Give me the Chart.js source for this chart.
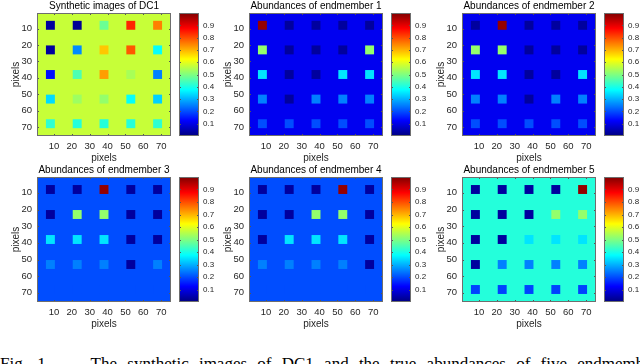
<!DOCTYPE html>
<html>
<head>
<meta charset="utf-8">
<script src="https://cdn.jsdelivr.net/npm/chart.js@4"></script>
<style>
  html, body { margin: 0; padding: 0; background: #fff; overflow: hidden; }
  body { width: 640px; height: 364px; position: relative; }
  canvas { position: absolute; }
  #caption {
    position: absolute; left: 0; top: 355px; width: 640px;
    font-family: 'Liberation Serif', serif; font-size: 17px; line-height: 17px;
    white-space: nowrap; word-spacing: 6px; color: #000;
  }
</style>
</head>
<body>
<div id="caption">Fig. 1.&nbsp;&nbsp;&nbsp; The synthetic images of DC1 and the true abundances of five endmembers.</div>
<script>
// panel titles, left to right, top to bottom
const titles = [
  'Synthetic images of DC1',
  'Abundances of endmember 1',
  'Abundances of endmember 2',
  'Abundances of endmember 3',
  'Abundances of endmember 4',
  'Abundances of endmember 5'
];

// square centres in pixel units (same for rows and columns)
const centers = [8, 23, 38, 53, 68];
const squareSize = 5;
const pixelRange = [0.5, 75.5];
const axisTicks = [10, 20, 30, 40, 50, 60, 70];
const colorTicks = [0.1, 0.2, 0.3, 0.4, 0.5, 0.6, 0.7, 0.8, 0.9];
const colorRange = [0, 1];

// value of the flat background in each panel
const backgrounds = [0.57, 0.11, 0.11, 0.2, 0.2, 0.41];

// square values, one row per row of squares (top to bottom)
const dc1 = [
  [0.03, 0.02, 0.48, 0.84, 0.75],
  [0.03, 0.26, 0.68, 0.79, 0.38],
  [0.14, 0.45, 0.72, 0.54, 0.25],
  [0.34, 0.53, 0.52, 0.38, 0.33],
  [0.42, 0.41, 0.41, 0.41, 0.42]
];
const em1 = [
  [0.98, 0.03, 0.03, 0.03, 0.03],
  [0.52, 0.03, 0.03, 0.03, 0.52],
  [0.35, 0.03, 0.03, 0.35, 0.35],
  [0.25, 0.03, 0.25, 0.25, 0.25],
  [0.2, 0.2, 0.2, 0.2, 0.2]
];
const em2 = [
  [0.03, 0.98, 0.03, 0.03, 0.03],
  [0.52, 0.52, 0.03, 0.03, 0.03],
  [0.35, 0.35, 0.03, 0.03, 0.35],
  [0.25, 0.25, 0.03, 0.25, 0.25],
  [0.2, 0.2, 0.2, 0.2, 0.2]
];
const em3 = [
  [0.03, 0.03, 0.98, 0.03, 0.03],
  [0.03, 0.52, 0.52, 0.03, 0.03],
  [0.35, 0.35, 0.35, 0.03, 0.03],
  [0.25, 0.25, 0.25, 0.03, 0.25],
  [0.2, 0.2, 0.2, 0.2, 0.2]
];
const em4 = [
  [0.03, 0.03, 0.03, 0.98, 0.03],
  [0.03, 0.03, 0.52, 0.52, 0.03],
  [0.03, 0.35, 0.35, 0.35, 0.03],
  [0.25, 0.25, 0.25, 0.25, 0.03],
  [0.2, 0.2, 0.2, 0.2, 0.2]
];
const em5 = [
  [0.03, 0.03, 0.03, 0.03, 0.98],
  [0.03, 0.03, 0.03, 0.52, 0.52],
  [0.03, 0.03, 0.35, 0.35, 0.35],
  [0.03, 0.25, 0.25, 0.25, 0.25],
  [0.19, 0.19, 0.19, 0.19, 0.19]
];
const panels = [dc1, em1, em2, em3, em4, em5];

// layout of the 2x3 grid (page pixels)
const plotLeft = [37, 249, 462];
const barLeft = [179, 391, 604];
const plotTop = [13, 177];
const plotH = [123, 125];
const plotW = 134;

Chart.defaults.font.family = "'Liberation Sans', Arial, sans-serif";
Chart.defaults.color = '#262626';

// matlab jet colormap
function jet(v) {
  const c = x => Math.round(255 * Math.max(0, Math.min(1, x)));
  return 'rgb(' + c(1.5 - Math.abs(4 * v - 3)) + ',' + c(1.5 - Math.abs(4 * v - 2)) + ',' + c(1.5 - Math.abs(4 * v - 1)) + ')';
}

// fills the plot area with the panel background value
const fieldFill = {
  id: 'fieldFill',
  beforeDatasetsDraw(chart, args, opts) {
    const a = chart.chartArea;
    chart.ctx.save();
    chart.ctx.fillStyle = jet(opts.value);
    chart.ctx.fillRect(a.left, a.top, a.width, a.height);
    chart.ctx.restore();
  }
};

// box with inward tick marks, matlab style
const boxTicks = {
  id: 'boxTicks',
  afterDraw(chart) {
    const {ctx, chartArea: a} = chart;
    const len = 2;
    ctx.save();
    ctx.strokeStyle = '#555';
    ctx.lineWidth = 1;
    ctx.beginPath();
    Object.values(chart.scales).forEach(s => {
      if (s.options.display === false || s.type !== 'linear') return;
      s.ticks.forEach(t => {
        const p = Math.round(s.getPixelForValue(t.value)) + 0.5;
        if (s.isHorizontal()) {
          ctx.moveTo(p, a.bottom); ctx.lineTo(p, a.bottom - len);
          ctx.moveTo(p, a.top); ctx.lineTo(p, a.top + len);
        } else {
          ctx.moveTo(a.left, p); ctx.lineTo(a.left + len, p);
          ctx.moveTo(a.right, p); ctx.lineTo(a.right - len, p);
        }
      });
    });
    ctx.stroke();
    ctx.strokeStyle = '#6e6e6e';
    ctx.strokeRect(a.left + 0.5, a.top + 0.5, a.width - 1, a.height - 1);
    ctx.restore();
  }
};

function makeCanvas(left, top, w, h) {
  const cv = document.createElement('canvas');
  cv.width = w; cv.height = h;
  cv.style.left = left + 'px';
  cv.style.top = top + 'px';
  document.body.appendChild(cv);
  return cv;
}

function fixTicks(list) {
  return s => { s.ticks = list.map(v => ({value: v})); };
}

panels.forEach((panel, k) => {
  const col = k % 3, row = Math.floor(k / 3);
  const cells = [];
  panel.forEach((r, i) => r.forEach((v, j) => cells.push({x: centers[j], y: centers[i], v: v})));

  const cv = makeCanvas(plotLeft[col] - 37, plotTop[row] - 14, 37 + plotW + 4, 14 + plotH[row] + 30);
  new Chart(cv, {
    type: 'scatter',
    data: {
      datasets: [{
        data: cells,
        pointStyle: 'rect',
        pointBorderWidth: 0,
        pointBackgroundColor: ctx => jet(ctx.raw.v),
        pointRadius: ctx => {
          const x = ctx.chart.scales.x;
          const side = Math.abs(x.getPixelForValue(squareSize) - x.getPixelForValue(0));
          return side / Math.SQRT2;
        }
      }]
    },
    options: {
      responsive: false,
      animation: false,
      events: [],
      layout: {padding: {left: 0, right: 4, top: 0, bottom: 0}},
      plugins: {
        legend: {display: false},
        tooltip: {enabled: false},
        title: {
          display: true, text: titles[k], fullSize: false, color: '#000',
          font: {size: 10, weight: 'normal', lineHeight: 1.2},
          padding: {top: 1, bottom: 1}
        },
        fieldFill: {value: backgrounds[k]}
      },
      scales: {
        x: {
          type: 'linear', min: pixelRange[0], max: pixelRange[1],
          grid: {display: false, drawTicks: false}, border: {display: false},
          ticks: {font: {size: 9.5}, padding: 5, maxRotation: 0, autoSkip: false},
          afterBuildTicks: fixTicks(axisTicks),
          title: {display: true, text: 'pixels', font: {size: 10, lineHeight: 1.2}, padding: {top: 0, bottom: 2}},
          afterFit: s => { s.height = 30; s.paddingLeft = 0; s.paddingRight = 0; }
        },
        y: {
          type: 'linear', reverse: true, min: pixelRange[0], max: pixelRange[1],
          grid: {display: false, drawTicks: false}, border: {display: false},
          ticks: {font: {size: 9.5}, padding: 5, autoSkip: false},
          afterBuildTicks: fixTicks(axisTicks),
          title: {display: true, text: 'pixels', font: {size: 10, lineHeight: 1.2}, padding: {top: 10, bottom: 0}},
          afterFit: s => { s.width = 37; s.paddingTop = 0; s.paddingBottom = 0; }
        }
      }
    },
    plugins: [fieldFill, boxTicks]
  });

  // colour bar
  const cb = makeCanvas(barLeft[col], plotTop[row], 20 + 30, plotH[row]);
  new Chart(cb, {
    type: 'bar',
    data: {
      labels: [''],
      datasets: [{
        data: [colorRange],
        borderWidth: 0,
        barPercentage: 1,
        categoryPercentage: 1,
        backgroundColor: ctx => {
          const a = ctx.chart.chartArea;
          if (!a) return '#000';
          const y = ctx.chart.scales.y;
          const g = ctx.chart.ctx.createLinearGradient(0, y.getPixelForValue(colorRange[0]), 0, y.getPixelForValue(colorRange[1]));
          for (let i = 0; i <= 64; i++) g.addColorStop(i / 64, jet(i / 64));
          return g;
        }
      }]
    },
    options: {
      responsive: false,
      animation: false,
      events: [],
      layout: {padding: 0},
      plugins: {legend: {display: false}, tooltip: {enabled: false}},
      scales: {
        x: {display: false},
        y: {
          type: 'linear', position: 'right', min: colorRange[0], max: colorRange[1],
          grid: {display: false, drawTicks: false}, border: {display: false},
          ticks: {font: {size: 8}, padding: 4},
          afterBuildTicks: fixTicks(colorTicks),
          afterFit: s => { s.width = 30; s.paddingTop = 0; s.paddingBottom = 0; }
        }
      }
    },
    plugins: [boxTicks]
  });
});
</script>
</body>
</html>
